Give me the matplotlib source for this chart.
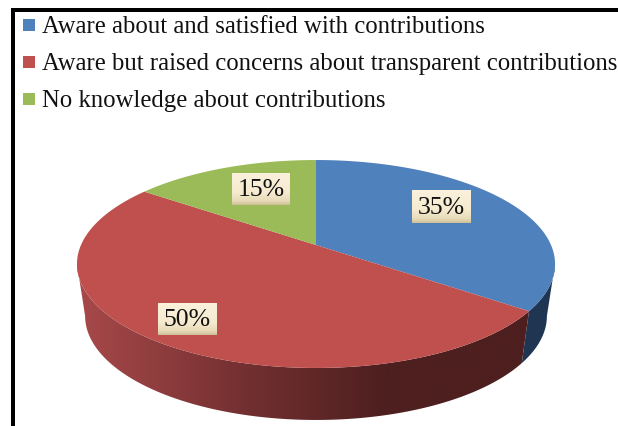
import numpy as np
import matplotlib
matplotlib.use('Agg')
import matplotlib.pyplot as plt
from matplotlib.colors import LinearSegmentedColormap
from matplotlib.patches import Polygon, Rectangle

plt.rcParams['font.family'] = ['Liberation Serif', 'DejaVu Serif']

categories = ['Aware about and satisfied with contributions',
              'Aware but raised concerns about transparent contributions',
              'No knowledge about contributions']
shares = [35, 50, 15]
share_labels = ['35%', '50%', '15%']
top_colors = ['#4F81BD', '#C0504D', '#9BBB59']
# label box corners: left, top, right, bottom
label_boxes = [(412, 190, 471, 223), (158, 303, 217, 335), (232, 173, 290, 205)]

TILT = 0.1827


# tilted disc: angle clockwise from 12 o'clock to pixels
def rim(t, cy, d):
    u = np.sin(t)
    v = np.cos(t)
    w = 1 + TILT * v
    return 316 + d * u / w, cy - 100.5 * v / w


def wall_poly(t0, t1):
    t = np.linspace(t0, t1, 200)
    xt, yt = rim(t, 245, 235)
    xb, yb = rim(t, 297, 227)
    return np.r_[np.c_[xt, yt], np.c_[xb, yb][::-1]]


fig = plt.figure(figsize=(6.18, 4.26), dpi=100)
ax = fig.add_axes([0, 0, 1, 1])
ax.axis('off')

# frame on the left and top edges
ax.add_patch(Rectangle((11, 8), 4, 418, color='black', lw=0, zorder=5))
ax.add_patch(Rectangle((11, 8), 607, 4, color='black', lw=0, zorder=5))

# legend
for i, name in enumerate(categories):
    y = 25 + i * 37
    ax.add_patch(Rectangle((23, y - 6), 12, 12, color=top_colors[i], lw=0))
    ax.text(42, y + 8, name, fontsize=17.8, color='#111111', va='baseline', ha='left')

edges = np.cumsum([0] + shares) / 100 * 2 * np.pi
# where the rim turns back: the walls stop at the two side extremes
t_right = np.arccos(-TILT)
t_left = 2 * np.pi - t_right

red_ramp = LinearSegmentedColormap.from_list(
    'red_wall', [(0, '#A8494A'), (0.38, '#722F30'), (0.68, '#4E1F1F'), (1, '#4E1F1F')])

ax.add_patch(Polygon(wall_poly(t_right, edges[1]), color='#1F3552', lw=0, zorder=1))

wall = Polygon(wall_poly(edges[1], t_left), color='none', lw=0, zorder=1)
ax.add_patch(wall)
img = ax.imshow(np.linspace(0, 1, 256)[None, :], cmap=red_ramp, extent=(77, 530, 426, 200),
                aspect='auto', zorder=1.5)
img.set_clip_path(wall)

# top face
for i in range(3):
    t = np.linspace(edges[i], edges[i + 1], 200)
    x, y = rim(t, 245, 235)
    pts = np.r_[[[316, 245]], np.c_[x, y]]
    ax.add_patch(Polygon(pts, color=top_colors[i], lw=0, zorder=2))

# value labels on cream boxes
cream = LinearSegmentedColormap.from_list(
    'cream', [(0, '#FBF1DC'), (0.6, '#F6EBD0'), (0.88, '#E6DAB8'), (1, '#CFC096')])
for (x0, y0, x1, y1), text in zip(label_boxes, share_labels):
    ax.imshow(np.linspace(0, 1, 64)[:, None], cmap=cream, extent=(x0, x1, y1, y0),
              aspect='auto', zorder=3)
    ax.text((x0 + x1) / 2, y0 + 23.5, text, fontsize=18.5, color='#111111',
            ha='center', va='baseline', zorder=4)

ax.set_xlim(0, 618)
ax.set_ylim(426, 0)
fig.savefig('out.png', dpi=100, facecolor='white')
